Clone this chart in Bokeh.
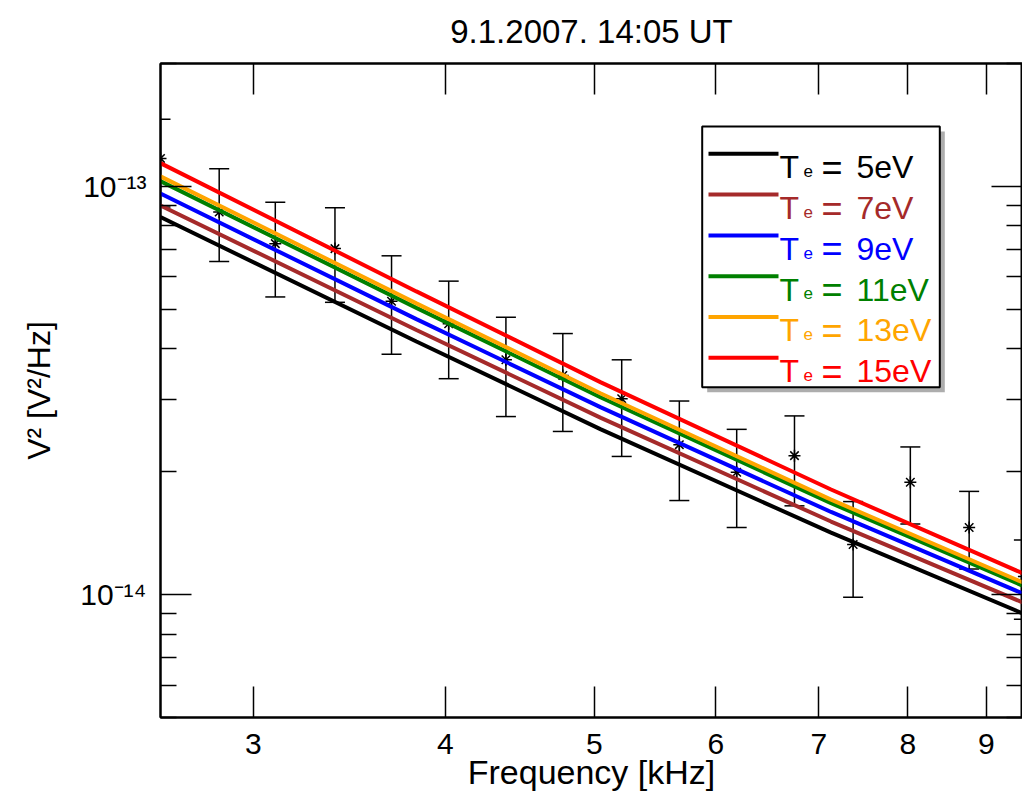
from bokeh.plotting import figure
from bokeh.models import (FixedTicker, CustomJSTickFormatter, LogAxis, Label,
                          BoxAnnotation, Range1d, ColumnDataSource)
from bokeh.embed import file_html
from bokeh.resources import INLINE

FONT = "Liberation Sans"
TITLE = "9.1.2007. 14:05 UT"

# ---- measured spectrum (frequency in kHz, V^2/Hz) ----
freq_khz = [2.61, 2.85, 3.10, 3.39, 3.69, 4.02, 4.38, 4.77, 5.21, 5.68, 6.19, 6.75, 7.37, 8.03, 8.77, 9.52]
psd      = [1.171e-13, 8.65e-14, 7.24e-14, 7.04e-14, 5.23e-14, 4.61e-14, 3.76e-14, 3.44e-14,
            3.02e-14, 2.33e-14, 1.995e-14, 2.19e-14, 1.326e-14, 1.884e-14, 1.46e-14, 1.107e-14]
psd_hi   = [1.46e-13, 1.105e-13, 9.15e-14, 8.87e-14, 6.76e-14, 5.86e-14, 4.78e-14, 4.36e-14,
            3.76e-14, 2.98e-14, 2.54e-14, 2.74e-14, 1.69e-14, 2.30e-14, 1.79e-14, 1.36e-14]
psd_lo   = [8.9e-14, 6.55e-14, 5.36e-14, 5.20e-14, 3.88e-14, 3.38e-14, 2.73e-14, 2.51e-14,
            2.18e-14, 1.70e-14, 1.46e-14, 1.65e-14, 9.85e-15, 1.49e-14, 1.156e-14, 8.7e-15]

# ---- model curves for different electron temperatures ----
model_freq = [2.61, 3.83, 5.05, 7.13, 9.5]
te_5ev  = [8.41e-14, 4.17e-14, 2.54e-14, 1.418e-14, 9.00e-15]
te_7ev  = [8.98e-14, 4.45e-14, 2.71e-14, 1.510e-14, 9.57e-15]
te_9ev  = [9.60e-14, 4.73e-14, 2.875e-14, 1.594e-14, 1.007e-14]
te_11ev = [1.030e-13, 5.04e-14, 3.04e-14, 1.675e-14, 1.052e-14]
te_13ev = [1.058e-13, 5.17e-14, 3.11e-14, 1.709e-14, 1.072e-14]
te_15ev = [1.140e-13, 5.53e-14, 3.31e-14, 1.809e-14, 1.128e-14]

series_labels = ["5eV", "7eV", "9eV", "11eV", "13eV", "15eV"]
series_values = [te_5ev, te_7ev, te_9ev, te_11ev, te_13ev, te_15ev]
series_colors = ["#000000", "#A52A2A", "#0000FF", "#008000", "#FFA500", "#FF0000"]

x_ticks = [3, 4, 5, 6, 7, 8, 9]
y_major = [1e-14, 1e-13]
y_minor = [5e-15, 6e-15, 7e-15, 8e-15, 9e-15, 2e-14, 3e-14, 4e-14, 5e-14, 6e-14,
           7e-14, 8e-14, 9e-14, 2e-13]

p = figure(x_axis_type="log", y_axis_type="log",
           x_range=Range1d(2.61, 9.5), y_range=Range1d(5e-15, 2e-13),
           frame_width=862, frame_height=654,
           min_border_left=160, min_border_right=0, min_border_top=63, min_border_bottom=70,
           output_backend="svg", toolbar_location=None)
p.title.visible = False

p.xgrid.visible = False
p.ygrid.visible = False
p.outline_line_color = "black"
p.outline_line_width = 2
p.background_fill_color = "white"

sup_js = """
const s = {"-":"\u207B","0":"\u2070","1":"\u00B9","2":"\u00B2","3":"\u00B3","4":"\u2074",
           "5":"\u2075","6":"\u2076","7":"\u2077","8":"\u2078","9":"\u2079"};
const e = Math.round(Math.log10(tick));
return "10" + String(e).split("").map(c => s[c]).join("");
"""
int_js = "return tick.toFixed(0);"
empty_js = "return '';"

def style_axis(ax, labels=True):
    ax.axis_line_color = "black"
    ax.axis_line_width = 2
    ax.major_tick_line_color = "black"
    ax.major_tick_line_width = 1.5
    ax.minor_tick_line_color = "black"
    ax.minor_tick_line_width = 1.5
    ax.major_tick_in = 31
    ax.major_tick_out = 0
    ax.minor_tick_in = 16
    ax.minor_tick_out = 0
    ax.major_label_text_font = FONT
    ax.axis_label_text_font = FONT
    ax.axis_label_text_font_style = "normal"
    ax.axis_label_text_color = "black"
    ax.major_label_text_color = "black"
    if not labels:
        ax.major_label_text_font_size = "0px"
        ax.major_label_standoff = 0

xt = FixedTicker(ticks=x_ticks, minor_ticks=[])
yt = FixedTicker(ticks=y_major, minor_ticks=y_minor)

xa = p.xaxis[0]
xa.ticker = xt
xa.formatter = CustomJSTickFormatter(code=int_js)
style_axis(xa)
xa.major_label_text_font_size = "30px"
xa.major_label_standoff = 16
xa.axis_label = "Frequency [kHz]"
xa.axis_label_text_font_size = "34px"
xa.axis_label_standoff = -4

ya = p.yaxis[0]
ya.ticker = yt
ya.formatter = CustomJSTickFormatter(code=sup_js)
style_axis(ya)
ya.major_label_text_font_size = "30px"
ya.major_label_standoff = 14
ya.axis_label = "V\u00B2 [V\u00B2/Hz]"
ya.axis_label_text_font_size = "32px"
ya.axis_label_standoff = 20

# top frame axis carries the plot title as its label
top_ax = LogAxis(ticker=FixedTicker(ticks=x_ticks, minor_ticks=[]),
                 formatter=CustomJSTickFormatter(code=empty_js))
style_axis(top_ax, labels=False)
top_ax.axis_label = TITLE
top_ax.axis_label_text_font_size = "33px"
top_ax.axis_label_standoff = 14
p.add_layout(top_ax, "above")

right_ax = LogAxis(ticker=FixedTicker(ticks=y_major, minor_ticks=y_minor),
                   formatter=CustomJSTickFormatter(code=empty_js))
style_axis(right_ax, labels=False)
p.add_layout(right_ax, "right")

# ---- data with error bars ----
src = ColumnDataSource(dict(f=freq_khz, v=psd, hi=psd_hi, lo=psd_lo))
p.segment(x0="f", y0="lo", x1="f", y1="hi", source=src, line_color="black", line_width=1.5)
p.scatter(x="f", y="hi", marker="dash", size=20, line_width=1.5, line_color="black", source=src)
p.scatter(x="f", y="lo", marker="dash", size=20, line_width=1.5, line_color="black", source=src)
p.scatter(x="f", y="v", marker="asterisk", size=12, line_width=1.5, line_color="black", source=src)

# ---- model curves ----
for vals, col in zip(series_values, series_colors):
    p.line(model_freq, vals, line_width=4, line_color=col)

# ---- legend box (screen units relative to the frame) ----
bx_l, bx_r, bx_b, bx_t = 541.7, 779.3, 330.3, 591.0
p.add_layout(BoxAnnotation(left=bx_l + 5, right=bx_r + 5, bottom=bx_b - 5, top=bx_t - 5,
                           left_units="screen", right_units="screen",
                           bottom_units="screen", top_units="screen",
                           fill_color="#777777", fill_alpha=0.6, line_alpha=0))
p.add_layout(BoxAnnotation(left=bx_l, right=bx_r, bottom=bx_b, top=bx_t,
                           left_units="screen", right_units="screen",
                           bottom_units="screen", top_units="screen",
                           fill_color="white", fill_alpha=1.0,
                           line_color="black", line_width=2, line_alpha=1.0))

row0, row_step = 563.7, 40.8
for i, (lab, col) in enumerate(zip(series_labels, series_colors)):
    ry = row0 - i * row_step
    p.add_layout(BoxAnnotation(left=548, right=618, bottom=ry - 2, top=ry + 2,
                               left_units="screen", right_units="screen",
                               bottom_units="screen", top_units="screen",
                               fill_color=col, fill_alpha=1.0, line_alpha=0))
    p.add_layout(Label(x=619, y=ry - 13.4, x_units="screen", y_units="screen", text="T",
                       text_font=FONT, text_font_size="32px", text_color=col,
                       text_baseline="alphabetic", text_align="left"))
    p.add_layout(Label(x=643, y=ry - 17.2, x_units="screen", y_units="screen", text="e",
                       text_font=FONT, text_font_size="17px", text_color=col,
                       text_baseline="alphabetic", text_align="left"))
    p.add_layout(Label(x=661, y=ry - 13.4, x_units="screen", y_units="screen", text="=",
                       text_font=FONT, text_font_size="36px", text_color=col,
                       text_baseline="alphabetic", text_align="left"))
    p.add_layout(Label(x=696, y=ry - 13.4, x_units="screen", y_units="screen", text=lab,
                       text_font=FONT, text_font_size="32px", text_color=col,
                       text_baseline="alphabetic", text_align="left"))

open("out.html", "w").write(file_html(p, INLINE))
